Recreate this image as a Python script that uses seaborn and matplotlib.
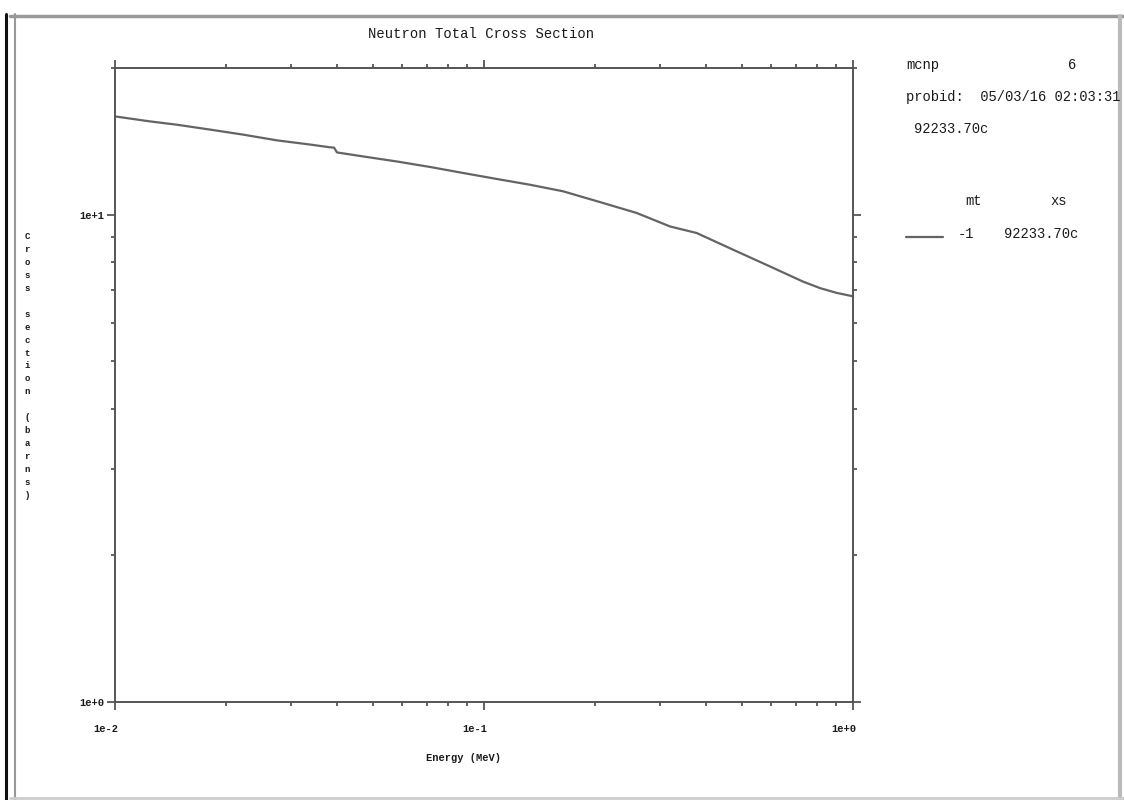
import matplotlib
matplotlib.use("Agg")
import matplotlib.pyplot as plt
import matplotlib.transforms as mtransforms
from matplotlib.lines import Line2D
from matplotlib.ticker import LogLocator, NullFormatter, FixedLocator, FixedFormatter
import seaborn as sns
import pandas as pd

# values (MeV, barns)
energy = [0.0100, 0.01244, 0.01470, 0.01809, 0.02223, 0.02744, 0.03378, 0.03825,
          0.03922, 0.03996, 0.04700, 0.05800, 0.07139, 0.08771, 0.1082, 0.1333,
          0.1637, 0.2101, 0.2594, 0.3192, 0.3771, 0.4839, 0.5959, 0.7319,
          0.8137, 0.9034, 1.000]
xs = [15.91, 15.54, 15.30, 14.95, 14.60, 14.21, 13.93, 13.75,
      13.73, 13.42, 13.17, 12.86, 12.53, 12.18, 11.84, 11.52,
      11.17, 10.57, 10.08, 9.46, 9.17, 8.41, 7.83, 7.29,
      7.07, 6.91, 6.80]

xticks = [0.01, 0.1, 1.0]
xtick_labels = ["1e-2", "1e-1", "1e+0"]
yticks = [1.0, 10.0]
ytick_labels = ["1e+0", "1e+1"]

df = pd.DataFrame({"energy": energy, "xs": xs})

sns.set_style("ticks")
plt.rcParams['font.family'] = ['Liberation Mono', 'DejaVu Sans Mono']

fig = plt.figure(figsize=(11.24, 8.0), dpi=100)
ax = fig.add_axes([115 / 1124, 1 - 702 / 800, (853 - 115) / 1124, (702 - 68) / 800])

sns.lineplot(data=df, x="energy", y="xs", ax=ax, color="#646464", lw=1.6)

ax.set_xscale("log")
ax.set_yscale("log")
ax.set_xlim(0.01, 1.0)
ax.set_ylim(1.0, 20.0)

for axis, ticks, labels in [(ax.xaxis, xticks, xtick_labels), (ax.yaxis, yticks, ytick_labels)]:
    axis.set_major_locator(FixedLocator(ticks))
    axis.set_major_formatter(FixedFormatter(labels))
    axis.set_minor_locator(LogLocator(base=10, subs=range(2, 10)))
    axis.set_minor_formatter(NullFormatter())

ax.tick_params(which="both", direction="out", top=True, right=True,
               color="#555555", width=1.3, labelsize=7.5, labelcolor="#1a1a1a")
ax.tick_params(which="major", length=6)
ax.tick_params(which="minor", length=3)
ax.tick_params(axis="x", pad=10)
ax.tick_params(axis="y", pad=1.5)

# x tick labels sit a little left of their ticks in the original
shift = mtransforms.ScaledTranslation(-9 / 100, 0, fig.dpi_scale_trans)
for lab in ax.get_xticklabels():
    lab.set_transform(lab.get_transform() + shift)
for lab in ax.get_xticklabels() + ax.get_yticklabels():
    lab.set_fontweight("bold")

for s in ax.spines.values():
    s.set_color("#555555")
    s.set_linewidth(1.4)

ax.set_xlabel("")
ax.set_ylabel("")

fig.text(481 / 1124, 1 - 34 / 800, "Neutron Total Cross Section", ha="center", va="center",
         fontsize=10, color="#1a1a1a")
fig.text(463 / 1124, 1 - 758 / 800, "Energy (MeV)", ha="center", va="center",
         fontsize=7.5, color="#1a1a1a", fontweight="bold")
fig.text(27 / 1124, 1 - 366 / 800, "\n".join("Cross section (barns)"), ha="center", va="center",
         fontsize=6.5, color="#1a1a1a", linespacing=1.57, fontweight="bold")

# info block on the right
info_color = "#1a1a1a"
fs = 9.9
fig.text(906 / 1124, 1 - 65 / 800, "mcnp", fontsize=fs, va="center", color=info_color)
fig.text(1068 / 1124, 1 - 65 / 800, "6", fontsize=fs, va="center", color=info_color)
fig.text(906 / 1124, 1 - 97 / 800, "probid:  05/03/16 02:03:31", fontsize=fs, va="center", color=info_color)
fig.text(914 / 1124, 1 - 129 / 800, "92233.70c", fontsize=fs, va="center", color=info_color)
fig.text(965 / 1124, 1 - 201 / 800, "mt", fontsize=fs, va="center", color=info_color)
fig.text(1050 / 1124, 1 - 201 / 800, "xs", fontsize=fs, va="center", color=info_color)
fig.add_artist(Line2D([906 / 1124, 943 / 1124], [1 - 237 / 800] * 2, color="#646464", lw=1.6))
fig.text(958 / 1124, 1 - 234 / 800, "-1", fontsize=fs, va="center", color=info_color)
fig.text(1004 / 1124, 1 - 234 / 800, "92233.70c", fontsize=fs, va="center", color=info_color)

# window frame of the screenshot
fig.add_artist(Line2D([6.5 / 1124] * 2, [0, 1 - 14 / 800], color="#111111", lw=2.2))
fig.add_artist(Line2D([15 / 1124] * 2, [0, 1 - 14 / 800], color="#999999", lw=1.5))
fig.add_artist(Line2D([10 / 1124, 1], [1 - 16 / 800] * 2, color="#999999", lw=2.5))
fig.add_artist(Line2D([1120 / 1124] * 2, [0, 1 - 16 / 800], color="#bbbbbb", lw=3))
fig.add_artist(Line2D([10 / 1124, 1], [2 / 800] * 2, color="#cccccc", lw=2))

fig.savefig("out.png", dpi=100, facecolor="white")
